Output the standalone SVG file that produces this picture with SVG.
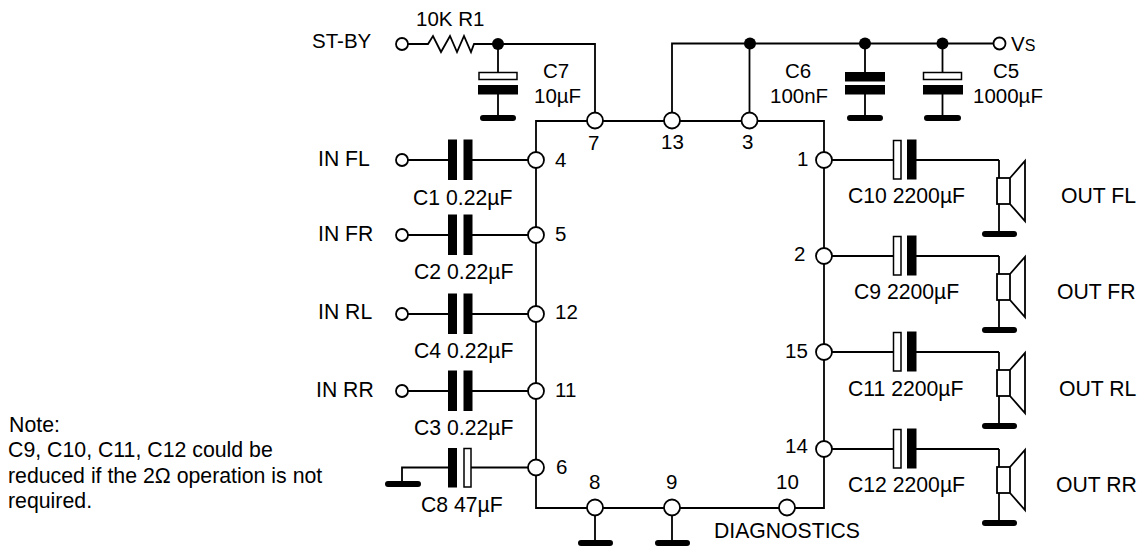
<svg xmlns="http://www.w3.org/2000/svg" width="1145" height="547" viewBox="0 0 1145 547">
<style>
text{font-family:"Liberation Sans",Arial,sans-serif;font-size:20.500px;fill:#000}
.l{font-size:21.200px}
.n{font-size:21.300px}
.w{fill:none;stroke:#000;stroke-width:1.800}
.g{fill:none;stroke:#000;stroke-width:6;stroke-linecap:round}
.p{fill:#fff;stroke:#000;stroke-width:1.800}
.b{fill:#000;stroke:#000;stroke-width:1}
.o{fill:#fff;stroke:#000;stroke-width:1.500}
.d{fill:#000}
</style>
<defs>
<g id="capL"><rect class="b" x="448.500" y="-20" width="8" height="39.500"/><rect class="b" x="464" y="-20" width="8" height="39.500"/></g>
<g id="capR"><rect class="o" x="893.500" y="-19.500" width="7.500" height="38.500"/><rect class="b" x="907.500" y="-20" width="8.500" height="39"/></g>
<g id="spk"><path class="w" d="M999 0V18M999 44V74"/><rect class="p" x="997" y="18" width="13" height="26"/><path class="w" d="M1010 18L1025 1V61L1010 44"/><path class="g" d="M985 74H1014"/></g>
</defs>
<g id="connectors">
<path class="w" d="M536 121H824V508H536Z"/>
<path class="w" d="M408 44H428L433 36L441 52L450 36L457 52L464 36L471 52L474 44H595V121"/>
<path class="w" d="M498 44V72M498 94V118"/>
<path class="w" d="M672 121V43.500H994M749.500 43.500V121"/>
<path class="w" d="M865 43.500V72M865 94V118M942.500 43.500V72M942.500 94V118"/>
<path class="w" d="M402 160H448M472 160H536M402 235H448M472 235H536M402 314H448M472 314H536M402 391H448M472 391H536"/>
<path class="w" d="M402 484V467.500H448M471 467.500H536"/>
<path class="w" d="M824 160H893M916 160H999M824 256H893M916 256H999M824 352H893M916 352H999M824 449H893M916 449H999"/>
<path class="w" d="M595 508V543M672 508V543"/>
<path class="g" d="M483 118H513M850 118H880M927 118H958M388 484H418M581 543H610M658 543H687"/>
</g>
<g id="stby"><circle class="p" cx="402" cy="44" r="6"/><text x="312" y="48">ST-BY</text></g>
<g id="r1"><text x="416" y="26">10K R1</text></g>
<g id="vs"><circle class="p" cx="999.500" cy="43.500" r="6"/><text x="1011" y="50.500">V<tspan font-size="16">S</tspan></text></g>
<g id="junctions"><circle class="d" cx="498" cy="44" r="6"/><circle class="d" cx="750" cy="43.500" r="6"/><circle class="d" cx="865" cy="43.500" r="6"/><circle class="d" cx="942.500" cy="43.500" r="6"/></g>
<g id="c7"><rect class="o" x="479" y="72.500" width="38" height="7"/><rect class="b" x="478.500" y="85.500" width="39" height="8.500"/><text x="543" y="78">C7</text><text x="534" y="103">10µF</text></g>
<g id="c6"><rect class="b" x="845.500" y="72.500" width="39" height="8.500"/><rect class="b" x="845.500" y="85.500" width="39" height="8.500"/><text x="785" y="78">C6</text><text x="770" y="103">100nF</text></g>
<g id="c5"><rect class="o" x="923.500" y="72.500" width="38" height="7"/><rect class="b" x="923.500" y="85.500" width="39" height="8.500"/><text x="993" y="78">C5</text><text x="973" y="103">1000µF</text></g>
<g id="ic-pins">
<circle class="p" cx="595" cy="120.500" r="8"/><text x="588" y="150">7</text>
<circle class="p" cx="672" cy="120.500" r="8"/><text x="661" y="149">13</text>
<circle class="p" cx="749.500" cy="120.500" r="8"/><text x="742" y="149">3</text>
<circle class="p" cx="536" cy="160" r="8"/><text x="555" y="167">4</text>
<circle class="p" cx="536" cy="235" r="8"/><text x="555" y="241">5</text>
<circle class="p" cx="536" cy="314" r="8"/><text x="555" y="319">12</text>
<circle class="p" cx="536" cy="391" r="8"/><text x="555" y="397">11</text>
<circle class="p" cx="536" cy="467.500" r="8"/><text x="556" y="474">6</text>
<circle class="p" cx="595" cy="507.500" r="8"/><text x="589" y="489">8</text>
<circle class="p" cx="672" cy="507.500" r="8"/><text x="666" y="489">9</text>
<circle class="p" cx="787" cy="507.500" r="8"/><text x="776" y="489">10</text>
<circle class="p" cx="824" cy="160" r="8"/><text x="797" y="166">1</text>
<circle class="p" cx="824" cy="256" r="8"/><text x="794" y="261">2</text>
<circle class="p" cx="824" cy="352" r="8"/><text x="785" y="358">15</text>
<circle class="p" cx="824" cy="449" r="8"/><text x="785" y="453">14</text>
<text class="l" x="714" y="538">DIAGNOSTICS</text>
</g>
<g id="in-fl"><circle class="p" cx="402" cy="160" r="6"/><use href="#capL" y="160"/><text class="l" x="318" y="166">IN FL</text><text class="l" x="413" y="205">C1 0.22µF</text></g>
<g id="in-fr"><circle class="p" cx="402" cy="235" r="6"/><use href="#capL" y="235"/><text class="l" x="318" y="241">IN FR</text><text class="l" x="414" y="279">C2 0.22µF</text></g>
<g id="in-rl"><circle class="p" cx="402" cy="314" r="6"/><use href="#capL" y="314"/><text class="l" x="318" y="319">IN RL</text><text class="l" x="414" y="358">C4 0.22µF</text></g>
<g id="in-rr"><circle class="p" cx="402" cy="391" r="6"/><use href="#capL" y="391"/><text class="l" x="316" y="397">IN RR</text><text class="l" x="414" y="435">C3 0.22µF</text></g>
<g id="c8"><rect class="b" x="448.500" y="448.500" width="8" height="38.500"/><rect class="o" x="464" y="448.500" width="7" height="38.500"/><text class="l" x="421" y="512">C8 47µF</text></g>
<g id="out-fl"><use href="#capR" y="160"/><use href="#spk" y="160"/><text class="l" x="848" y="203">C10 2200µF</text><text class="l" x="1061" y="203">OUT FL</text></g>
<g id="out-fr"><use href="#capR" y="256"/><use href="#spk" y="256"/><text class="l" x="854" y="299">C9 2200µF</text><text class="l" x="1057" y="299">OUT FR</text></g>
<g id="out-rl"><use href="#capR" y="352"/><use href="#spk" y="352"/><text class="l" x="848" y="396">C11 2200µF</text><text class="l" x="1059" y="396">OUT RL</text></g>
<g id="out-rr"><use href="#capR" y="449"/><use href="#spk" y="449"/><text class="l" x="848" y="492">C12 2200µF</text><text class="l" x="1056" y="492">OUT RR</text></g>
<g id="note"><text class="n" x="9" y="432">Note:</text><text class="n" x="8" y="457">C9, C10, C11, C12 could be</text><text class="n" x="8" y="483">reduced if the 2Ω operation is not</text><text class="n" x="8" y="508">required.</text></g>
</svg>
